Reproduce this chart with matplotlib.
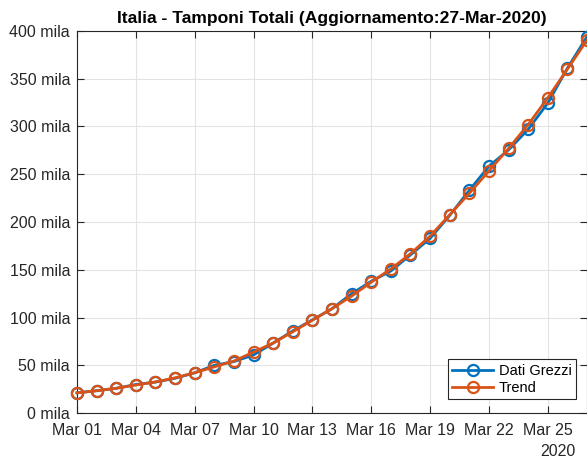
import numpy as np
import pandas as pd
import matplotlib
matplotlib.use('Agg')
import matplotlib.pyplot as plt
import matplotlib.dates as mdates

plt.rcParams['font.family'] = ['Liberation Sans', 'DejaVu Sans']

# dati
giorni = pd.date_range('2020-03-01', '2020-03-27', freq='D')
dati_grezzi = [21127, 23345, 25856, 29837, 32362, 36359, 42062, 49937, 53826,
               60761, 73154, 86011, 97488, 109170, 124899, 137962, 148657,
               165541, 182777, 206886, 233222, 258402, 275468, 296964,
               324445, 361060, 394079]
trend = [21100, 23300, 25900, 29300, 32500, 36800, 42200, 48300, 54400,
         63800, 73300, 85000, 97200, 109300, 122400, 137000, 150800,
         166800, 185200, 207500, 230000, 253500, 277000, 302000,
         330000, 360000, 390500]
yticks = [0, 50000, 100000, 150000, 200000, 250000, 300000, 350000, 400000]

blu = '#0072BD'
arancio = '#D95319'
grigio = '#262626'

fig = plt.figure(figsize=(5.87, 4.62), dpi=100)
ax = fig.add_axes([77/587, 1 - 413/462, 510/587, 382/462])

ax.plot(giorni, dati_grezzi, '-o', color=blu, lw=2, ms=8, mfc='none',
        mew=1.6, label='Dati Grezzi', clip_on=False, zorder=3)
ax.plot(giorni, trend, '-o', color=arancio, lw=2, ms=8, mfc='none',
        mew=1.6, label='Trend', clip_on=False, zorder=4)

ax.set_xlim(giorni[0], giorni[-1])
ax.set_ylim(0, 400000)
ax.set_yticks(yticks)
ax.set_yticklabels(['%d mila' % (v // 1000) for v in yticks])
ax.xaxis.set_major_locator(mdates.DayLocator(bymonthday=range(1, 32, 3)))
ax.xaxis.set_major_formatter(mdates.DateFormatter('%b %d'))

ax.grid(True, color='#e3e3e3', lw=0.8)
ax.set_axisbelow(True)
for s in ax.spines.values():
    s.set_color(grigio)
    s.set_linewidth(0.8)
ax.tick_params(direction='in', length=5, width=0.8, colors=grigio,
               labelsize=11.5, top=True, right=True, pad=5)
ax.tick_params(axis='x', pad=7)
for lab in ax.get_xticklabels() + ax.get_yticklabels():
    lab.set_color(grigio)

ax.set_title('Italia - Tamponi Totali (Aggiornamento:27-Mar-2020)',
             fontsize=12.6, fontweight='bold', pad=6)
ax.text(0.9765, -0.102, '2020', transform=ax.transAxes, ha='right',
        va='center', fontsize=11.5, color=grigio)

leg = ax.legend(loc='lower right', bbox_to_anchor=(1 - 11/510, 14/382),
                borderaxespad=0, fancybox=False, edgecolor=grigio,
                framealpha=1, fontsize=10.5, handlelength=2.8,
                borderpad=0.3, labelspacing=0.2, handletextpad=0.4)
leg.get_frame().set_linewidth(0.8)

fig.savefig('out.png', dpi=100)
